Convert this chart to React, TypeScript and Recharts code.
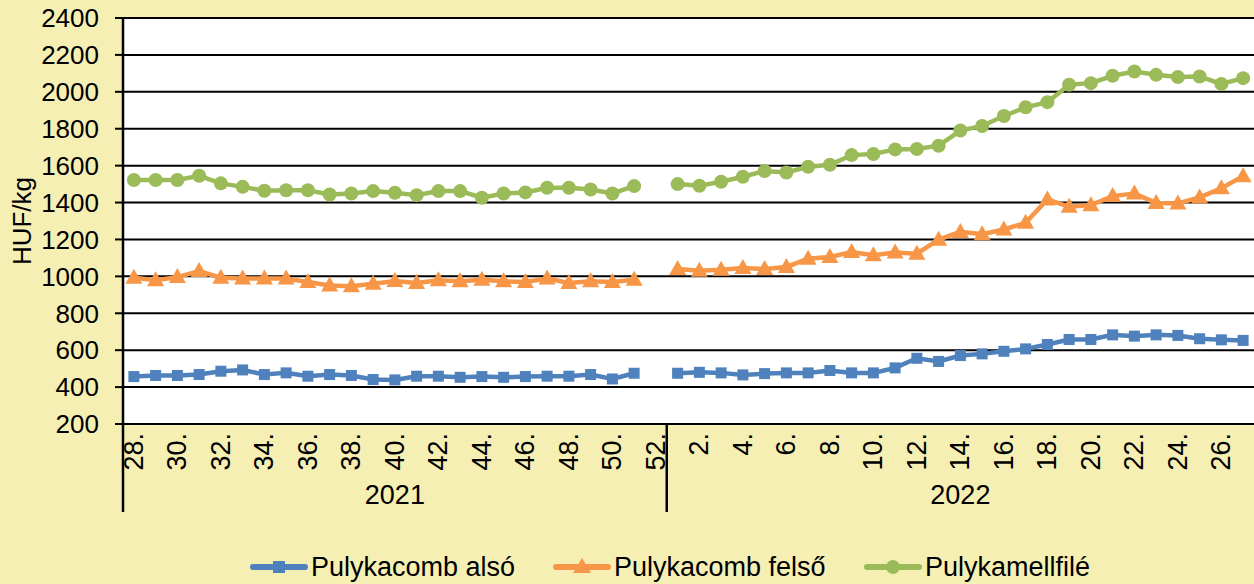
import React from 'react';
import { LineChart, Line, XAxis, YAxis, CartesianGrid, Legend } from 'recharts';

const weeks2021: string[] = ['28.','29.','30.','31.','32.','33.','34.','35.','36.','37.','38.','39.','40.','41.','42.','43.','44.','45.','46.','47.','48.','49.','50.','51.','52.'];
const weeks2022: string[] = ['1.','2.','3.','4.','5.','6.','7.','8.','9.','10.','11.','12.','13.','14.','15.','16.','17.','18.','19.','20.','21.','22.','23.','24.','25.','26.','27.'];
const yearLabels: string[] = ['2021', '2022'];

const alsoValues: (number | null)[] = [
  457,463,463,468,486,493,468,477,459,468,463,441,439,459,459,453,457,453,457,459,459,468,444,475,null,
  475,480,477,466,473,477,477,490,477,477,504,556,539,571,580,594,607,631,658,658,683,676,683,680,662,656,653,
];
const felsoValues: (number | null)[] = [
  993,979,996,1029,993,988,988,988,969,951,946,960,975,964,979,973,982,973,969,988,964,973,969,982,null,
  1040,1030,1036,1045,1040,1051,1096,1105,1132,1114,1129,1123,1199,1241,1228,1254,1290,1417,1377,1386,1435,1449,1398,1395,1428,1477,1543,
];
const filleValues: (number | null)[] = [
  1522,1522,1522,1545,1504,1485,1464,1467,1467,1444,1449,1462,1453,1440,1462,1462,1426,1449,1455,1480,1480,1471,1449,1489,null,
  1500,1491,1513,1540,1571,1563,1594,1605,1657,1663,1688,1690,1708,1790,1815,1869,1916,1944,2038,2047,2087,2110,2092,2080,2083,2043,2074,
];
const yTicks: number[] = [200,400,600,800,1000,1200,1400,1600,1800,2000,2200,2400];

const seriesNames = ['Pulykacomb alsó', 'Pulykacomb felső', 'Pulykamellfilé'];
const COLORS = ['#4F81BD', '#F79646', '#9BBB59'];
const BG = '#F5EFB4';
const FONT = '"Liberation Sans", Arial, sans-serif';

const W = 1254;
const H = 584;
const Y_AXIS_W = 123;
const X_AXIS_H = 116;
const LEGEND_H = 44;
const BAND = (W - Y_AXIS_W) / (weeks2021.length + weeks2022.length);

const categories = [
  ...weeks2021.map((w) => ({ week: w, year: yearLabels[0] })),
  ...weeks2022.map((w) => ({ week: w, year: yearLabels[1] })),
];
const data = categories.map((c, i) => ({
  ...c,
  also: alsoValues[i],
  felso: felsoValues[i],
  fille: filleValues[i],
}));

const firstOf2022 = weeks2021.length;
const yearMid2021 = Math.floor((weeks2021.length - 1) / 2);
const yearMid2022 = firstOf2022 + Math.floor((weeks2022.length - 1) / 2);

const WeekTick = (props: any) => {
  const { x, y, payload } = props;
  const i: number = payload?.index ?? props.index;
  const els: React.ReactNode[] = [];
  if (i % 2 === 0) {
    const ty = y + 9;
    els.push(
      <text key="l" x={x} y={ty} transform={`rotate(-90, ${x}, ${ty})`} textAnchor="end" dominantBaseline="central"
        fontSize={27} fontFamily={FONT} fill="#000">{payload.value}</text>
    );
  }
  if (i === 0 || i === firstOf2022) {
    const lx = x - BAND / 2;
    els.push(<line key="s" x1={lx} y1={y} x2={lx} y2={y + 88} stroke="#000" strokeWidth={2.5} />);
  }
  if (i === yearMid2021 || i === yearMid2022) {
    els.push(
      <text key="y" x={x} y={y + 71} textAnchor="middle" dominantBaseline="central" fontSize={27} fontFamily={FONT} fill="#000">
        {data[i].year}
      </text>
    );
  }
  return <g>{els}</g>;
};

const SquareDot = (props: any) => {
  const { cx, cy, index } = props;
  if (cx == null || cy == null) return <g key={`sq-${index}`} />;
  return <rect key={`sq-${index}`} x={cx - 5.5} y={cy - 5.5} width={11} height={11} fill={COLORS[0]} />;
};
const TriDot = (props: any) => {
  const { cx, cy, index } = props;
  if (cx == null || cy == null) return <g key={`tr-${index}`} />;
  return <polygon key={`tr-${index}`} points={`${cx},${cy - 9} ${cx + 8.5},${cy + 6} ${cx - 8.5},${cy + 6}`} fill={COLORS[1]} />;
};
const CircDot = (props: any) => {
  const { cx, cy, index } = props;
  if (cx == null || cy == null) return <g key={`ci-${index}`} />;
  return <circle key={`ci-${index}`} cx={cx} cy={cy} r={7} fill={COLORS[2]} />;
};

const LegendIcon = ({ idx }: { idx: number }) => {
  const c = COLORS[idx];
  return (
    <svg width={58} height={20} style={{ display: 'block' }}>
      <line x1={3} y1={10} x2={55} y2={10} stroke={c} strokeWidth={6} strokeLinecap="round" />
      {idx === 0 && <rect x={23} y={4} width={12} height={12} fill={c} />}
      {idx === 1 && <polygon points="29,1 38,16 20,16" fill={c} />}
      {idx === 2 && <circle cx={29} cy={10} r={7} fill={c} />}
    </svg>
  );
};

const legendLefts = [250, 553, 864];

const LegendContent = () => (
  <div style={{ position: 'relative', width: W, height: LEGEND_H, fontFamily: FONT, fontSize: 27, color: '#000' }}>
    {seriesNames.map((n, i) => (
      <div key={n} style={{ position: 'absolute', left: legendLefts[i], top: 12, display: 'flex', alignItems: 'center', whiteSpace: 'nowrap' }}>
        <LegendIcon idx={i} />
        <span style={{ marginLeft: 3, lineHeight: '30px' }}>{n}</span>
      </div>
    ))}
  </div>
);

const YLabel = (props: any) => {
  const vb = props.viewBox || {};
  const cx = 22;
  const cy = (vb.y ?? 18) + (vb.height ?? 406) / 2;
  return (
    <text x={cx} y={cy} transform={`rotate(-90, ${cx}, ${cy})`} textAnchor="middle" dominantBaseline="central"
      fontSize={26} fontFamily={FONT} fill="#000">HUF/kg</text>
  );
};

export default function App() {
  return (
    <div style={{ position: 'absolute', left: 0, top: 0, width: W, height: H, background: BG }}>
      <LineChart width={W} height={H} data={data} margin={{ top: 18, right: 0, bottom: 0, left: 0 }}>
        <CartesianGrid vertical={false} stroke="#000" strokeWidth={2} fill="#FFFFFF" fillOpacity={1} />
        <XAxis
          dataKey="week"
          scale="band"
          interval={0}
          height={X_AXIS_H}
          tickSize={0}
          tickMargin={0}
          tickLine={false}
          axisLine={{ stroke: '#000', strokeWidth: 2 }}
          tick={<WeekTick />}
        />
        <YAxis
          width={Y_AXIS_W}
          domain={[200, 2400]}
          ticks={yTicks}
          interval={0}
          allowDataOverflow
          tickSize={8}
          tickMargin={16}
          tickLine={{ stroke: '#000', strokeWidth: 2 }}
          axisLine={{ stroke: '#000', strokeWidth: 2.5 }}
          tick={{ fill: '#000', fontSize: 26, fontFamily: FONT }}
          label={<YLabel />}
        />
        <Legend verticalAlign="bottom" height={LEGEND_H} content={<LegendContent />} wrapperStyle={{ left: 0, width: W }} />
        <Line dataKey="also" name={seriesNames[0]} stroke={COLORS[0]} strokeWidth={4.5} dot={<SquareDot />} activeDot={false} isAnimationActive={false} connectNulls={false} />
        <Line dataKey="felso" name={seriesNames[1]} stroke={COLORS[1]} strokeWidth={4.5} dot={<TriDot />} activeDot={false} isAnimationActive={false} connectNulls={false} />
        <Line dataKey="fille" name={seriesNames[2]} stroke={COLORS[2]} strokeWidth={4.5} dot={<CircDot />} activeDot={false} isAnimationActive={false} connectNulls={false} />
      </LineChart>
    </div>
  );
}
